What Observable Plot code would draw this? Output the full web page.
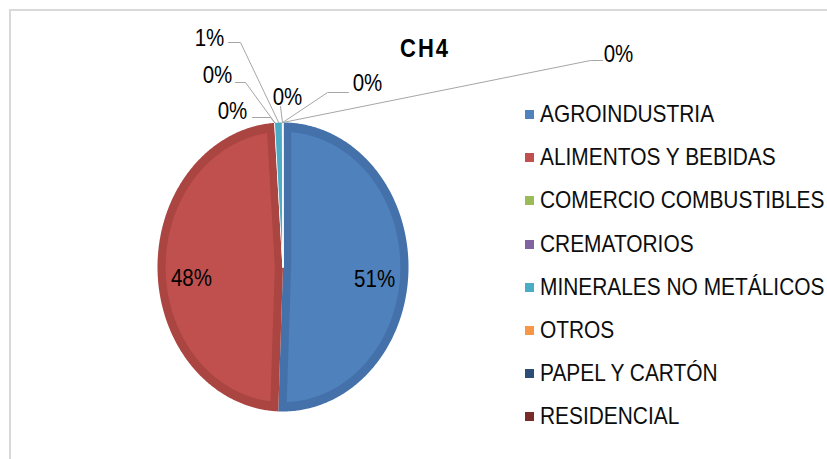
<!DOCTYPE html>
<html><head><meta charset="utf-8">
<script src="https://cdn.jsdelivr.net/npm/d3@7"></script>
<script src="https://cdn.jsdelivr.net/npm/@observablehq/plot@0.6"></script>
<style>
body{margin:0;background:#fff;font-family:"Liberation Sans",Arial,sans-serif;}
#wrap{position:relative;width:827px;height:459px;overflow:hidden;background:#fff;}
#frame{position:absolute;left:9px;top:9px;width:830px;height:460px;border-left:2px solid #d9d9d9;border-top:2px solid #d9d9d9;}
#chart{position:absolute;left:0;top:0;}
#title{position:absolute;left:425px;top:49px;transform:translate(-50%,-50%) scaleY(1.15);font-weight:bold;font-size:22px;letter-spacing:2px;line-height:26px;color:#000;white-space:nowrap;}
.row{position:absolute;left:525px;height:24px;line-height:24px;white-space:nowrap;font-size:20.9px;color:#0d0d0d;}
.sw{display:inline-block;width:9px;height:9px;vertical-align:middle;margin-right:6px;position:relative;top:-1px;}
.lt{display:inline-block;transform:scaleY(1.15);}
</style></head><body>
<div id="wrap"><div id="frame"></div><div id="chart"></div><div id="title">CH4</div><div id="legend"></div></div>
<script>
// ---- data ----
const categories = ["AGROINDUSTRIA","ALIMENTOS Y BEBIDAS","COMERCIO COMBUSTIBLES","CREMATORIOS","MINERALES NO METÁLICOS","OTROS","PAPEL Y CARTÓN","RESIDENCIAL"];
const shares = [50.6, 48.35, 0.02, 0.01, 0.95, 0.02, 0.03, 0.02];
const pctLabels = ["51%","48%","0%","0%","1%","0%","0%","0%"];
const colors = ["#4f81bd","#c0504d","#9bbb59","#8064a2","#4bacc6","#f79646","#2c4d75","#772c2a"];
const rimColors = ["#4471a9","#aa4542","#8aa84e","#715891","#439ab1","#de853e","#263f60","#682624"];

// ---- layout (pixels) ----
const cx = 282.5, cy = 266.5, rx = 125.5, ry = 144.5;
const toData = ([px, py]) => ({x: (px - cx) / rx, y: (cy - py) / ry});
// manually placed labels of the small slices: text centre and leader path
const smallLabelLayout = {
  2: {text: [232, 111], path: [[270, 117], [252, 117]]},
  3: {text: [217, 75],  path: [[245, 82], [235, 82]]},
  4: {text: [209, 38],  path: [[240, 42], [228, 42]]},
  5: {text: [287, 97],  path: [[280, 106]]},
  6: {text: [367, 83],  path: [[327, 92], [348, 92]]},
  7: {text: [618, 54],  path: [[590, 60], [602, 60]]}
};

const arcs = d3.pie().sort(null).value(d => d)(shares);
const pt = (a, r) => ({x: r * Math.sin(a), y: r * Math.cos(a)});

function wedge(a0, a1, r, apex) {
  const n = Math.max(2, Math.ceil((a1 - a0) / 0.01));
  const pts = [apex];
  for (let k = 0; k <= n; k++) pts.push(pt(a0 + (a1 - a0) * k / n, r));
  pts.push(apex);
  return pts;
}

const marks = [];
const d = 0.065;
arcs.forEach((a, i) => {
  const th = a.endAngle - a.startAngle;
  const big = th > 0.3;
  marks.push(Plot.line(wedge(a.startAngle, a.endAngle, 1, {x: 0, y: 0}), {
    x: "x", y: "y", fill: big ? rimColors[i] : colors[i],
    stroke: th < 0.01 ? "#ffffff" : "none", strokeWidth: 1.2
  }));
  if (big) {
    const mid = (a.startAngle + a.endAngle) / 2;
    const off = th <= Math.PI ? d / Math.sin(th / 2) : d;
    const apex = pt(mid, off);
    const r = 1 - d;
    const delta = Math.asin(d / r);
    marks.push(Plot.line(wedge(a.startAngle + delta, a.endAngle - delta, r, apex), {
      x: "x", y: "y", fill: colors[i], stroke: "none"
    }));
  }
});

// leader lines and percentage labels
const leaders = [];
const labelRows = [];
arcs.forEach((a, i) => {
  const mid = (a.startAngle + a.endAngle) / 2;
  const lay = smallLabelLayout[i];
  if (lay) {
    const e = pt(mid, 1);
    leaders.push({x: e.x, y: e.y, g: i});
    lay.path.forEach(p => { const q = toData(p); leaders.push({x: q.x, y: q.y, g: i}); });
    const t = toData(lay.text);
    labelRows.push({x: t.x, y: t.y, text: pctLabels[i]});
  } else {
    const p = pt(mid, 0.73);
    labelRows.push({x: p.x, y: p.y - 10 / ry, text: pctLabels[i]});
  }
});
marks.push(Plot.line(leaders, {x: "x", y: "y", z: "g", stroke: "#a6a6a6", strokeWidth: 1}));
marks.push(Plot.text(labelRows, {x: "x", y: "y", text: "text", fontSize: 20.5, fill: "#000",
  fontFamily: "Liberation Sans, Arial, sans-serif", textAnchor: "middle", lineAnchor: "middle"}));

const plot = Plot.plot({
  width: 827, height: 459, margin: 0,
  x: {domain: [-1, 1], range: [cx - rx, cx + rx], axis: null},
  y: {domain: [-1, 1], range: [cy + ry, cy - ry], axis: null},
  style: {background: "transparent", fontFamily: "Liberation Sans, Arial, sans-serif"},
  marks
});
// stretch label glyphs vertically like the reference
d3.select(plot).selectAll("text").each(function() {
  const t = this.getAttribute("transform");
  if (t) this.setAttribute("transform", t + " scale(1,1.15)");
  else {
    const x = this.getAttribute("x") || 0, y = this.getAttribute("y") || 0;
    this.removeAttribute("x"); this.removeAttribute("y");
    this.setAttribute("transform", `translate(${x},${y}) scale(1,1.15)`);
  }
});
document.getElementById("chart").appendChild(plot);

// legend
const legend = document.getElementById("legend");
categories.forEach((c, i) => {
  const row = document.createElement("div");
  row.className = "row";
  row.style.top = (114 + i * 43.2 - 12) + "px";
  row.innerHTML = `<span class="sw" style="background:${colors[i]}"></span><span class="lt">${c}</span>`;
  legend.appendChild(row);
});
</script>
</body></html>
